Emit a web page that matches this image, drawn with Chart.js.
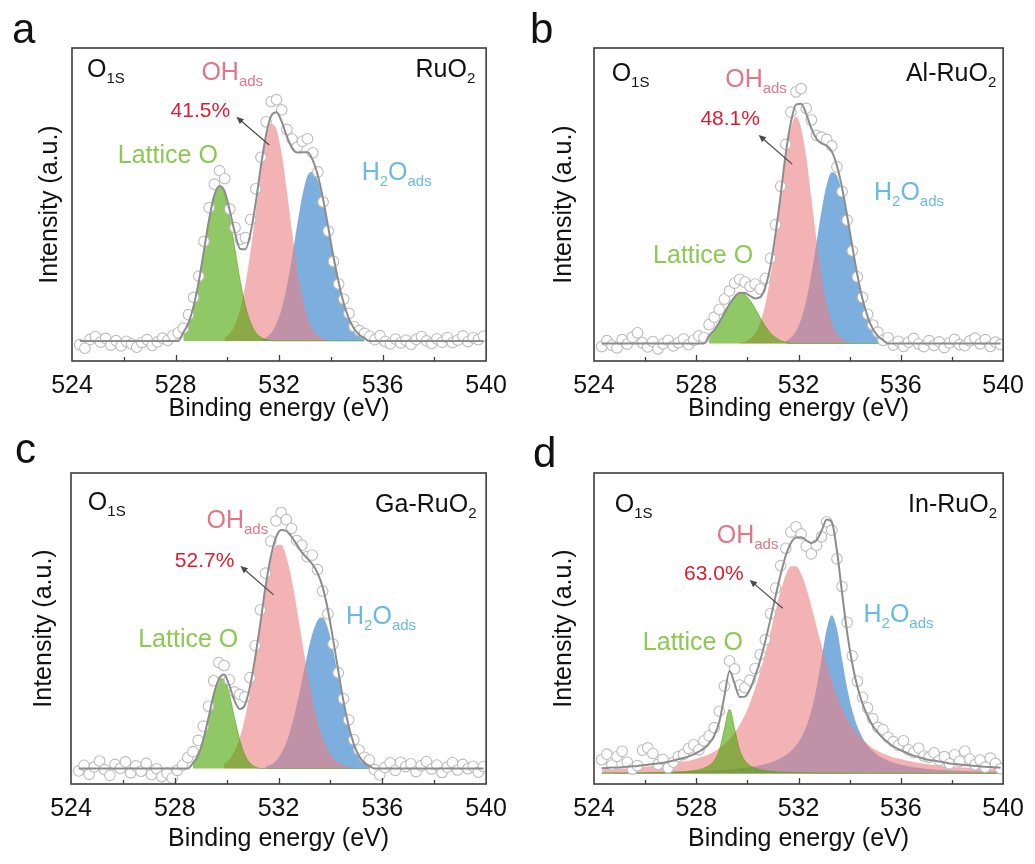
<!DOCTYPE html>
<html>
<head>
<meta charset="utf-8">
<title>O 1s XPS of RuO2 and M-RuO2</title>
<script src="https://cdn.jsdelivr.net/npm/chart.js@4.4.1/dist/chart.umd.min.js"></script>
<style>
  html, body { margin: 0; padding: 0; background: #fff; }
  #grid { position: relative; width: 1035px; height: 864px; }
  .panel { position: absolute; width: 517px; height: 432px; }
  .panel canvas { display: block; }
</style>
</head>
<body>
<div id="grid">
  <div class="panel" style="left:0;top:0"><canvas id="chartA" width="517" height="432"></canvas></div>
  <div class="panel" style="left:517px;top:0"><canvas id="chartB" width="517" height="432"></canvas></div>
  <div class="panel" style="left:0;top:432px"><canvas id="chartC" width="517" height="432"></canvas></div>
  <div class="panel" style="left:517px;top:432px"><canvas id="chartD" width="517" height="432"></canvas></div>
</div>
<script>
// ---- acquisition grid (eV) ----
const ENERGY_START = 524.3;
const ENERGY_STEP = 0.2;

const samples = ['RuO2', 'Al-RuO2', 'Ga-RuO2', 'In-RuO2'];
const ohShare = [41.5, 48.1, 52.7, 63.0];      // OH_ads share of the O 1s area, %
const backgrounds = [6.4, 5.6, 5.0, 3.4];      // flat background level per spectrum

// ---- RuO2 ----
const ruo2Counts = [
  5.2, 4.1, 6.9, 7.8, 6.0, 7.2, 5.1, 6.5, 4.8, 6.3, 5.5, 4.4, 5.9, 6.8, 5.0, 6.1, 7.3, 6.6, 8.2, 9.0,
  10.5, 14.8, 20.3, 27.1, 38.2, 49.0, 56.5, 60.8, 58.3, 48.5, 42.6, 38.9, 39.4, 45.2, 55.0, 65.1,
  76.4, 82.9, 83.5, 80.2, 74.0, 70.9, 68.3, 70.2, 71.0, 66.5, 60.4, 50.8, 41.5, 31.8, 24.6, 19.8,
  15.2, 11.0, 9.7, 8.8, 7.9, 6.8, 8.1, 6.2, 5.5, 7.0, 5.8, 6.6, 5.3, 6.9, 7.8, 6.4, 5.6, 7.1, 6.0, 7.5, 5.9, 6.7, 8.0, 6.2, 7.4, 6.8, 7.9
];
const ruo2LatticeStart = 528.3;
const ruo2Lattice = [2.7, 5.8, 11.2, 19.1, 29.0, 39.0, 46.6, 49.5, 46.6, 39.0, 29.0, 19.1, 11.2, 5.8, 2.7, 1.1, 0.4, 0.1,
  0, 0, 0, 0, 0, 0, 0, 0, 0, 0, 0, 0, 0, 0, 0, 0, 0, 0];
const ruo2OHStart = 529.9;
const ruo2OH = [1.1, 2.5, 5.3, 10.3, 18.1, 28.8, 41.5, 54.3, 64.4, 69.3, 67.6, 59.8, 48.0, 35.0, 23.1, 13.8, 7.5, 3.7, 1.7, 0.7, 0.2];
const ruo2H2OStart = 531.3;
const ruo2H2O = [0.5, 1.1, 2.6, 5.5, 10.3, 17.4, 26.7, 37.1, 46.5, 52.8, 54.1, 51.1, 44.7, 36.1, 27.0, 18.8, 12.0, 7.1, 3.9, 2.0, 0.9];

// ---- Al-RuO2 ----
const alCounts = [
  4.6, 6.5, 5.0, 4.2, 6.8, 5.4, 7.6, 9.0, 5.8, 4.5, 6.2, 3.9, 5.5, 6.6, 4.8, 5.9, 7.0, 5.2, 6.7, 8.0,
  7.5, 11.6, 14.0, 16.5, 19.8, 22.4, 24.9, 26.1, 25.2, 23.8, 24.6, 23.0, 26.4, 32.8, 43.5, 55.8,
  69.2, 79.5, 86.0, 87.0, 80.7, 77.0, 72.1, 71.5, 70.8, 68.7, 62.0, 54.1, 45.0, 35.2, 26.9, 20.3,
  14.9, 11.5, 9.2, 6.6, 7.4, 5.1, 6.3, 4.7, 6.0, 7.2, 5.4, 4.6, 6.5, 5.0, 6.1, 4.3, 5.8, 6.9, 5.2, 4.9, 6.4, 7.3, 5.5, 6.8, 4.7, 6.0, 5.3
];
const alLatticeStart = 528.5;
const alLattice = [2.5, 4.3, 6.8, 9.7, 12.6, 14.9, 16.0, 15.6, 13.8, 11.2, 8.2, 5.5, 3.3, 1.9, 0.9, 0.4,
  0, 0, 0, 0, 0, 0, 0, 0, 0, 0, 0, 0, 0, 0, 0, 0, 0, 0, 0];
const alOHStart = 529.7;
const alOH = [0.2, 0.5, 1.4, 3.2, 6.6, 12.5, 21.4, 33.2, 46.6, 59.6, 68.9, 72.4, 68.9, 59.6, 46.6, 33.2, 21.4, 12.5, 6.6, 3.2, 1.4, 0.5, 0.2];
const alH2OStart = 531.5;
const alH2O = [0.7, 1.8, 3.9, 7.7, 13.7, 22.1, 32.2, 42.5, 50.7, 54.7, 53.6, 48.4, 40.3, 30.9, 21.9, 14.2, 8.6, 4.7, 2.4, 1.1];

// ---- Ga-RuO2 ----
const gaCounts = [
  4.2, 6.0, 3.1, 5.5, 7.4, 4.6, 2.8, 6.3, 5.0, 7.1, 3.6, 5.8, 4.1, 6.6, 3.0, 4.9, 2.4, 3.5, 1.9, 4.4,
  6.1, 8.5, 10.4, 14.0, 18.6, 25.0, 33.2, 39.0, 38.1, 33.5, 29.6, 28.8, 28.0, 34.2, 44.5, 56.0,
  67.8, 78.1, 84.6, 87.3, 85.0, 82.2, 78.3, 76.8, 73.1, 73.6, 68.9, 62.0, 54.7, 45.0, 35.8, 27.4,
  20.6, 14.2, 10.9, 8.6, 7.7, 4.6, 2.9, 5.3, 6.8, 4.4, 7.0, 5.6, 6.5, 4.0, 5.9, 7.2, 4.8, 6.1, 3.7, 5.4, 6.9, 4.5, 6.3, 4.9, 5.7, 3.8, 5.6
];
const gaLatticeStart = 528.7;
const gaLattice = [1.7, 4.3, 9.3, 16.3, 23.8, 28.8, 28.8, 23.8, 16.3, 9.3, 4.3, 1.7, 0.5,
  0, 0, 0, 0, 0, 0, 0, 0, 0, 0, 0, 0, 0, 0, 0, 0, 0, 0, 0, 0, 0, 0, 0, 0];
const gaOHStart = 529.9;
const gaOH = [1.4, 2.9, 5.6, 9.8, 16.1, 24.7, 35.3, 46.8, 58.0, 66.8, 71.8, 71.9, 68.0, 60.9, 51.6, 41.3, 31.3, 22.5, 15.3, 9.8, 5.9, 3.4, 1.9, 1.0, 0.5, 0.2];
const gaH2OStart = 531.5;
const gaH2O = [0.6, 1.2, 2.5, 4.8, 8.4, 13.6, 20.4, 28.2, 36.3, 43.2, 47.6, 48.5, 45.1, 38.2, 29.5, 20.7, 13.2, 7.6, 4.0, 1.9, 0.8];

// ---- In-RuO2 (components run over the whole window) ----
const inCounts = [
  7.8, 9.6, 6.1, 8.9, 10.5, 7.0, 4.8, 5.9, 10.9, 11.6, 9.8, 6.3, 7.9, 5.2, 7.0, 8.8, 9.5, 11.4, 12.6, 11.0,
  13.9, 15.5, 18.1, 23.4, 31.5, 39.6, 37.0, 31.8, 31.0, 33.4, 37.1, 41.6, 46.4, 54.8, 63.0, 70.2,
  75.8, 81.0, 82.7, 80.4, 76.5, 74.0, 76.8, 79.5, 84.3, 81.6, 72.4, 63.5, 52.0, 41.2, 33.0, 27.9,
  24.5, 21.0, 18.2, 17.5, 15.0, 13.6, 12.4, 13.9, 11.0, 10.2, 11.5, 9.0, 8.6, 10.0, 7.6, 8.8, 6.5, 9.4, 7.3, 10.6, 8.0, 6.2, 7.7, 5.4, 8.3, 6.6, 4.9
];
const inLatticeStart = 524.3;
const inLattice = [
  0.07, 0.08, 0.09, 0.1, 0.1, 0.11, 0.13, 0.14, 0.16, 0.18, 0.2, 0.23, 0.27, 0.31, 0.38, 0.44, 0.54, 0.7, 0.9, 1.2,
  1.7, 2.5, 4.1, 7.4, 14.3, 20.6, 14.3, 7.4, 4.1, 2.5, 1.7, 1.2, 0.9, 0.7, 0.54, 0.44,
  0.38, 0.31, 0.27, 0.23, 0.2, 0.18, 0.16, 0.14, 0.13, 0.11, 0.1, 0.1, 0.09, 0.08, 0.07, 0.07,
  0.06, 0.06, 0.05, 0.05, 0.05, 0.04, 0.04, 0.04, 0.04, 0.03, 0.03, 0.03, 0.03, 0.03, 0.03, 0.03, 0.02, 0.02, 0.02, 0.02, 0.02, 0.02, 0.02, 0.02, 0.02, 0.02, 0.02
];
const inOHStart = 524.3;
const inOH = [
  1.3, 1.4, 1.5, 1.5, 1.6, 1.7, 1.8, 1.9, 2.1, 2.2, 2.4, 2.5, 2.7, 2.9, 3.2, 3.5, 3.8, 4.1, 4.5, 5.0,
  5.5, 6.2, 7.0, 8.1, 9.4, 11.0, 13.1, 15.6, 18.8, 22.6, 27.3, 32.6, 38.7, 45.4, 52.3, 58.7,
  63.8, 66.6, 66.6, 64.2, 59.6, 53.7, 47.3, 41.0, 35.0, 29.8, 25.0, 21.1, 17.7, 15.0, 12.7, 10.9,
  9.4, 8.1, 7.2, 6.4, 5.8, 5.2, 4.8, 4.4, 4.0, 3.7, 3.4, 3.1, 2.9, 2.8, 2.6, 2.4, 2.2, 2.1, 2.0, 1.9, 1.8, 1.7, 1.6, 1.5, 1.5, 1.4, 1.3
];
const inH2OStart = 524.3;
const inH2O = [
  0.27, 0.28, 0.29, 0.31, 0.32, 0.34, 0.35, 0.37, 0.39, 0.41, 0.44, 0.46, 0.49, 0.52, 0.55, 0.59, 0.63, 0.68, 0.73, 0.78,
  0.85, 0.92, 1.0, 1.1, 1.2, 1.3, 1.4, 1.6, 1.8, 2.0, 2.3, 2.6, 3.0, 3.5, 4.1, 4.9,
  5.9, 7.2, 9.0, 11.5, 15.1, 20.2, 27.5, 36.9, 46.5, 50.9, 46.5, 36.9, 27.5, 20.2, 15.1, 11.5,
  9.0, 7.2, 5.9, 4.9, 4.1, 3.5, 3.0, 2.6, 2.3, 2.0, 1.8, 1.6, 1.4, 1.3, 1.2, 1.1, 1.0, 0.92, 0.85, 0.78, 0.73, 0.68, 0.63, 0.59, 0.55, 0.52, 0.49
];

// ---- look ----
const FONT = '"Liberation Sans", Arial, Helvetica, sans-serif';
const INK = '#111111';
const FRAME = '#3c3c3c';
const FILL_LATTICE = 'rgba(72, 163, 0, 0.6)';
const FILL_OH = 'rgba(235, 127, 130, 0.6)';
const FILL_H2O = 'rgba(38, 122, 200, 0.6)';
const TEXT_LATTICE = 'rgb(140, 200, 82)';
const TEXT_OH = 'rgb(224, 118, 136)';
const TEXT_H2O = 'rgb(104, 186, 228)';
const TEXT_SHARE = 'rgb(222, 28, 48)';

// plot-area boxes inside each 517x432 canvas, plus label anchors in data units
const layouts = [
  { canvas: 'chartA', letter: 'a', letterAt: [12, 43], area: { left: 72, top: 48, right: 488, bottom: 361 },
    yTitleX: 50, xTitleMid: 409,
    o1s: [524.58, 90.7], sampleAt: [539.58, 90.7], ohAt: [529.0, 89.8], shareAt: [527.81, 78.0],
    arrow: [[531.62, 69.0], [530.35, 78.0]], latticeAt: [525.77, 63.3], waterAt: [535.19, 57.8] },
  { canvas: 'chartB', letter: 'b', letterAt: [13, 43], area: { left: 77, top: 48, right: 492, bottom: 361 },
    yTitleX: 47, xTitleMid: 409,
    o1s: [524.69, 89.5], sampleAt: [539.73, 89.5], ohAt: [529.13, 87.5], shareAt: [528.16, 75.4],
    arrow: [[531.75, 62.9], [530.44, 72.2]], latticeAt: [526.31, 31.3], waterAt: [534.95, 51.4] },
  { canvas: 'chartC', letter: 'c', letterAt: [15, 31], area: { left: 71, top: 41, right: 487, bottom: 352 },
    yTitleX: 44, xTitleMid: 407,
    o1s: [524.65, 88.1], sampleAt: [539.63, 87.6], ohAt: [529.22, 82.2], shareAt: [528.0, 69.9],
    arrow: [[531.81, 60.8], [530.53, 70.1]], latticeAt: [526.59, 44.1], waterAt: [534.6, 51.4] },
  { canvas: 'chartD', letter: 'd', letterAt: [16, 35], area: { left: 77, top: 41, right: 491, bottom: 352 },
    yTitleX: 47, xTitleMid: 407,
    o1s: [524.81, 87.6], sampleAt: [539.76, 87.6], ohAt: [528.8, 77.4], shareAt: [527.52, 65.6],
    arrow: [[531.38, 56.5], [530.09, 65.6]], latticeAt: [525.91, 43.1], waterAt: [534.54, 52.2] }
];

const spectra = [
  { counts: ruo2Counts, lattice: [ruo2LatticeStart, ruo2Lattice], oh: [ruo2OHStart, ruo2OH], h2o: [ruo2H2OStart, ruo2H2O] },
  { counts: alCounts, lattice: [alLatticeStart, alLattice], oh: [alOHStart, alOH], h2o: [alH2OStart, alH2O] },
  { counts: gaCounts, lattice: [gaLatticeStart, gaLattice], oh: [gaOHStart, gaOH], h2o: [gaH2OStart, gaH2O] },
  { counts: inCounts, lattice: [inLatticeStart, inLattice], oh: [inOHStart, inOH], h2o: [inH2OStart, inH2O] }
];

const energyAt = (start, i) => Math.round((start + i * ENERGY_STEP) * 10) / 10;
const font = (size, weight = 'normal') => `${weight} ${size}px ${FONT}`;

function peakPoints([start, heights], base) {
  return heights.map((h, i) => ({ x: energyAt(start, i), y: base + h }));
}

// fitted envelope = background + sum of the three components
function envelopePoints(spec, base) {
  const total = spec.counts.map(() => base);
  [spec.lattice, spec.oh, spec.h2o].forEach(([start, heights]) => {
    const offset = Math.round((start - ENERGY_START) / ENERGY_STEP);
    heights.forEach((h, i) => {
      if (offset + i >= 0 && offset + i < total.length) total[offset + i] += h;
    });
  });
  return total.map((y, i) => ({ x: energyAt(ENERGY_START, i), y }));
}

function drawRich(ctx, parts, x, y, color, align = 'left') {
  const sizes = parts.map(([, sub]) => (sub ? 15 : 25));
  const widths = parts.map(([text], i) => { ctx.font = font(sizes[i]); return ctx.measureText(text).width; });
  let cx = align === 'right' ? x - widths.reduce((a, b) => a + b, 0) : x;
  ctx.fillStyle = color;
  ctx.textAlign = 'left';
  ctx.textBaseline = 'alphabetic';
  parts.forEach(([text, sub], i) => {
    ctx.font = font(sizes[i]);
    ctx.fillText(text, cx, sub ? y + 6 : y);
    cx += widths[i];
  });
}

function drawArrow(ctx, x1, y1, x2, y2) {
  const ang = Math.atan2(y2 - y1, x2 - x1);
  ctx.strokeStyle = '#4a4a4a';
  ctx.fillStyle = '#4a4a4a';
  ctx.lineWidth = 1.2;
  ctx.beginPath();
  ctx.moveTo(x1, y1);
  ctx.lineTo(x2 - 6 * Math.cos(ang), y2 - 6 * Math.sin(ang));
  ctx.stroke();
  ctx.beginPath();
  ctx.moveTo(x2, y2);
  ctx.lineTo(x2 - 8 * Math.cos(ang - 0.42), y2 - 8 * Math.sin(ang - 0.42));
  ctx.lineTo(x2 - 8 * Math.cos(ang + 0.42), y2 - 8 * Math.sin(ang + 0.42));
  ctx.closePath();
  ctx.fill();
}

// frame, inward ticks, panel letter and peak labels
const panelDecor = {
  id: 'panelDecor',
  afterDraw(chart, args, opts) {
    const { ctx, chartArea: area, scales: { x, y } } = chart;
    const px = (e) => x.getPixelForValue(e);
    const py = (v) => y.getPixelForValue(v);
    ctx.save();

    ctx.strokeStyle = FRAME;
    ctx.lineWidth = 1.3;
    x.ticks.forEach(t => {
      if (t.value <= x.min || t.value >= x.max) return;
      const tx = Math.round(px(t.value)) + 0.5;
      const len = t.value % 4 === 0 ? 6 : 4;
      ctx.beginPath();
      ctx.moveTo(tx, area.bottom);
      ctx.lineTo(tx, area.bottom - len);
      ctx.stroke();
    });
    ctx.lineWidth = 1.6;
    ctx.strokeRect(area.left, area.top, area.right - area.left, area.bottom - area.top);

    ctx.fillStyle = INK;
    ctx.font = font(42);
    ctx.textAlign = 'left';
    ctx.textBaseline = 'alphabetic';
    ctx.fillText(opts.letter, opts.letterAt[0], opts.letterAt[1]);

    drawRich(ctx, [['O', false], ['1S', true]], px(opts.o1s[0]), py(opts.o1s[1]), INK);
    const name = opts.sample;
    drawRich(ctx, [[name.slice(0, -1), false], [name.slice(-1), true]], px(opts.sampleAt[0]), py(opts.sampleAt[1]), INK, 'right');
    drawRich(ctx, [['OH', false], ['ads', true]], px(opts.ohAt[0]), py(opts.ohAt[1]), TEXT_OH);
    drawRich(ctx, [['Lattice O', false]], px(opts.latticeAt[0]), py(opts.latticeAt[1]), TEXT_LATTICE);
    drawRich(ctx, [['H', false], ['2', true], ['O', false], ['ads', true]], px(opts.waterAt[0]), py(opts.waterAt[1]), TEXT_H2O);

    ctx.fillStyle = TEXT_SHARE;
    ctx.font = font(21);
    ctx.fillText(`${opts.share.toFixed(1)}%`, px(opts.shareAt[0]), py(opts.shareAt[1]));

    const [[ax, ay], [bx, by]] = opts.arrow;
    drawArrow(ctx, px(ax), py(ay), px(bx), py(by));
    ctx.restore();
  }
};

function buildChart(idx) {
  const lay = layouts[idx];
  const spec = spectra[idx];
  const base = backgrounds[idx];
  const canvas = document.getElementById(lay.canvas);
  const W = canvas.width, H = canvas.height;
  const area = lay.area;
  const curve = { showLine: true, pointRadius: 0, cubicInterpolationMode: 'monotone' };

  return new Chart(canvas, {
    type: 'scatter',
    data: {
      datasets: [
        { ...curve, label: 'Fit', data: envelopePoints(spec, base), borderColor: '#8c8c8c', borderWidth: 2, fill: false, order: 0 },
        { label: 'Data', data: spec.counts.map((c, i) => ({ x: energyAt(ENERGY_START, i), y: c })), showLine: false,
          pointRadius: 5.3, pointBorderWidth: 1.1, pointBorderColor: '#bcbcbc', pointBackgroundColor: '#ffffff', order: 1 },
        { ...curve, label: 'Lattice O', data: peakPoints(spec.lattice, base), borderColor: FILL_LATTICE, borderWidth: 1,
          backgroundColor: FILL_LATTICE, fill: { value: base }, order: 2 },
        { ...curve, label: 'OH ads', data: peakPoints(spec.oh, base), borderColor: 'rgba(0,0,0,0)', borderWidth: 1,
          backgroundColor: FILL_OH, fill: { value: base }, order: 3 },
        { ...curve, label: 'H2O ads', data: peakPoints(spec.h2o, base), borderColor: 'rgba(0,0,0,0)', borderWidth: 1,
          backgroundColor: FILL_H2O, fill: { value: base }, order: 4 }
      ]
    },
    options: {
      responsive: false,
      animation: false,
      devicePixelRatio: 1,
      layout: { padding: { left: 0, top: area.top, right: W - area.right, bottom: 0 } },
      plugins: {
        legend: { display: false },
        tooltip: { enabled: false },
        panelDecor: { ...lay, sample: samples[idx], share: ohShare[idx] }
      },
      scales: {
        x: {
          type: 'linear', min: 524, max: 540,
          grid: { display: false, drawTicks: false },
          border: { display: false },
          ticks: {
            stepSize: 2, autoSkip: false, maxRotation: 0, padding: 10,
            color: INK, font: { family: FONT, size: 25 },
            callback: (v) => (v % 4 === 0 ? String(v) : '')
          },
          title: { display: true, text: 'Binding energy (eV)', color: INK, font: { family: FONT, size: 25 },
            padding: { top: 0, bottom: H - lay.xTitleMid - 15 } },
          afterFit: (scale) => { scale.height = H - area.bottom; }
        },
        y: {
          min: 0, max: 100,
          grid: { display: false, drawTicks: false },
          border: { display: false },
          ticks: { display: false },
          title: { display: true, text: 'Intensity (a.u.)', color: INK, font: { family: FONT, size: 25 },
            padding: { top: lay.yTitleX - 15, bottom: 0 } },
          afterFit: (scale) => { scale.width = area.left; }
        }
      }
    },
    plugins: [panelDecor]
  });
}

document.addEventListener('DOMContentLoaded', () => {
  layouts.forEach((_, i) => buildChart(i));
});
</script>
</body>
</html>
